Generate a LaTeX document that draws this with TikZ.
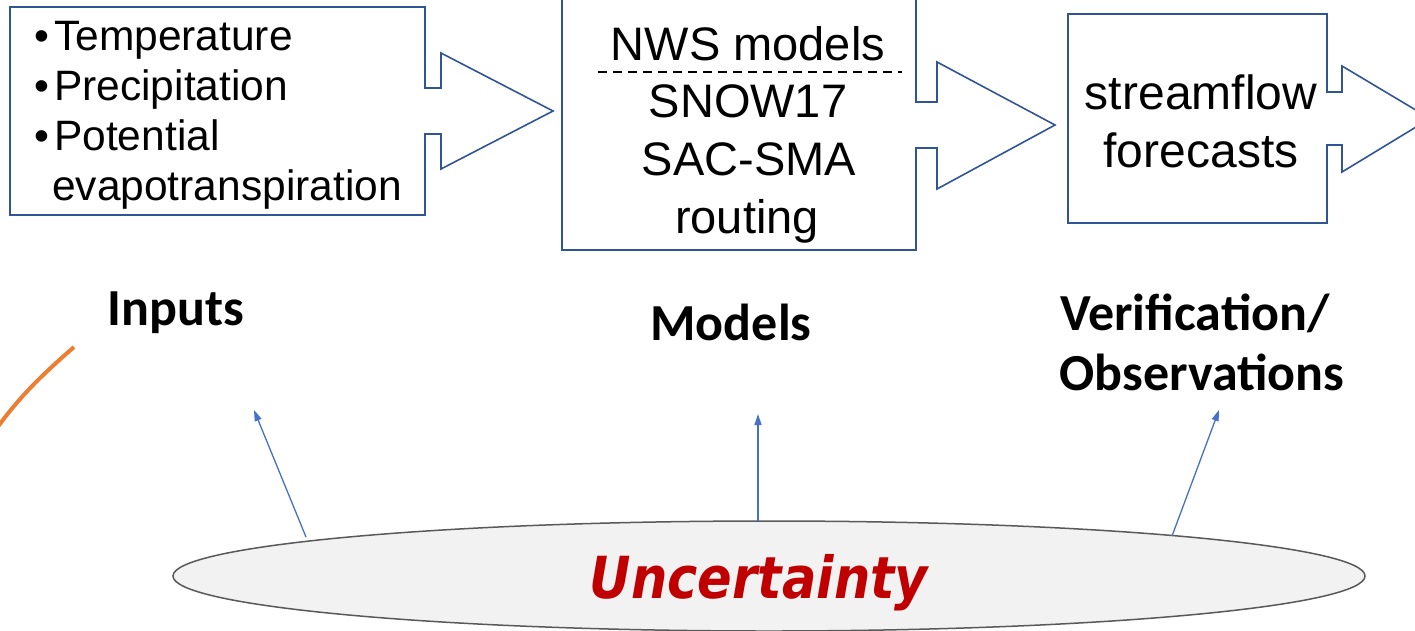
\documentclass[tikz,border=0pt]{standalone}
\usepackage{fontspec}
\setmainfont{Liberation Sans}
\newfontfamily\lblfont{Carlito}
\newfontfamily\uncfont[FakeStretch=0.88]{DejaVu Sans}
\usetikzlibrary{shapes.geometric,arrows.meta}
\definecolor{boxblue}{RGB}{47,85,151}
\definecolor{arrblue}{RGB}{68,114,196}
\definecolor{orng}{RGB}{237,125,49}
\definecolor{uncred}{RGB}{192,0,0}
\definecolor{ellfill}{RGB}{242,242,242}
\definecolor{ellline}{RGB}{89,89,89}
\begin{document}
\begin{tikzpicture}[x=1pt,y=-1pt,
 blk/.style={draw=boxblue,line width=1.6pt,line join=miter},
 txtA/.style={font=\fontsize{42.5}{50}\selectfont,inner sep=0,anchor=base west},
 txtB/.style={font=\fontsize{47}{56}\selectfont,inner sep=0,anchor=base},
 txtC/.style={font=\fontsize{48}{58}\selectfont,inner sep=0,anchor=base},
 lbl/.style={font=\lblfont\bfseries\fontsize{52}{60}\selectfont,inner sep=0,anchor=base},
 up/.style={draw=arrblue,line width=1.3pt,-{Triangle[length=11pt,width=7pt]}}]
\useasboundingbox (0,0) rectangle (1415,630);
% block arrows
\draw[blk] (425,88) -- (425,7) -- (10,7) -- (10,215) -- (425,215) -- (425,134)
  -- (441,134) -- (441,169) -- (553,111) -- (441,53) -- (441,88) -- cycle;
\draw[blk] (916,102) -- (916,-3) -- (562,-3) -- (562,250) -- (916,250) -- (916,148)
  -- (937,148) -- (937,189) -- (1055,125) -- (937,62) -- (937,102) -- cycle;
\draw[blk] (1327,92) -- (1327,14) -- (1068,14) -- (1068,223) -- (1327,223) -- (1327,145)
  -- (1342,145) -- (1342,172) -- (1430,118.5) -- (1342,66) -- (1342,92) -- cycle;
% box 1 text
\node[txtA] (t1) at (34,50) {\makebox[20pt][l]{•}Temperature};
\node[txtA] (t2) at (34,100) {\makebox[20pt][l]{•}Precipitation};
\node[txtA] (t3) at (34,150) {\makebox[20pt][l]{•}Potential};
\node[txtA] (t4) at (52,200) {evapotranspiration};
% box 2 text
\node[txtB] (n1) at (748,60) {NWS models};
\draw[line width=1.5pt,dash pattern=on 9pt off 6pt] (598,72) -- (902,72);
\node[txtB] (n2) at (748,117) {SNOW17};
\node[txtB] (n3) at (749,175) {SAC-SMA};
\node[txtB] (n4) at (747,233) {routing};
% box 3 text
\node[txtC] (s1) at (1201,109) {streamflow};
\node[txtC] (s2) at (1201,167) {forecasts};
% labels
\node[lbl] (L1) at (176,325) {Inputs};
\node[lbl] (L2) at (731,340) {Models};
\node[lbl] (L3) at (1195,330) {Verification/};
\node[lbl] (L4) at (1202,390) {Observations};
% ellipse
\node[ellipse,draw=ellline,fill=ellfill,line width=1.5pt,minimum width=1192pt,minimum height=110pt,inner sep=0] (unc) at (769,576) {};
\node[font=\uncfont\bfseries\itshape\fontsize{58}{60}\selectfont,text=uncred,anchor=base,inner sep=0] (unct) at (759,598) {Uncertainty};
% arrows
\coordinate (a1s) at (306,537);
\coordinate (a1e) at (254,410);
\coordinate (a2s) at (758,521);
\coordinate (a2e) at (758,414);
\coordinate (a3s) at (1172,536);
\coordinate (a3e) at (1219,410);
\draw[up] (a1s) -- (a1e);
\draw[up] (a2s) -- (a2e);
\draw[up] (a3s) -- (a3e);
% orange stroke
\coordinate (o1) at (74,347);
\coordinate (o2) at (-3,428);
\draw[draw=orng,line width=4pt] (o1) .. controls (50,368) and (22,393) .. (o2);
\end{tikzpicture}
\end{document}
